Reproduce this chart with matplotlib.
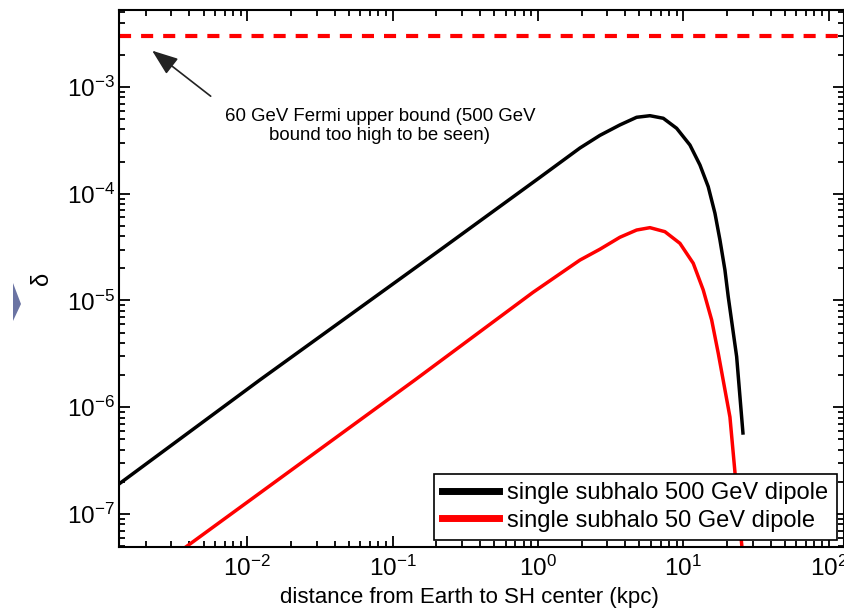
import matplotlib
matplotlib.use('Agg')
import matplotlib.pyplot as plt
from matplotlib.patches import Polygon

plt.rcParams['font.family'] = ['Liberation Sans', 'DejaVu Sans']
plt.rcParams['mathtext.default'] = 'regular'

# values
d_500 = [1.31e-3, 0.0122, 0.212, 1.03, 1.946, 2.671, 3.667, 4.779, 5.90, 7.29, 9.01,
         11.12, 13.03, 14.86, 16.53, 17.89, 19.36, 20.40, 23.31, 25.76]
delta_500 = [1.91e-7, 1.80e-6, 2.97e-5, 1.42e-4, 2.68e-4, 3.52e-4, 4.41e-4, 5.20e-4,
             5.38e-4, 5.09e-4, 4.10e-4, 2.86e-4, 1.86e-4, 1.164e-4, 6.56e-5, 3.69e-5,
             1.93e-5, 1.085e-5, 2.98e-6, 5.74e-7]

d_50 = [1.31e-3, 3.78e-3, 0.1424, 0.924, 1.42, 1.946, 2.671, 3.667, 4.779, 5.90, 7.48,
        9.49, 11.72, 13.73, 15.69, 17.42, 20.96, 22.69, 25.35, 26.5]
delta_50 = [1.73e-8, 4.91e-8, 1.80e-6, 1.19e-5, 1.78e-5, 2.39e-5, 3.02e-5, 3.91e-5,
            4.57e-5, 4.81e-5, 4.41e-5, 3.43e-5, 2.23e-5, 1.254e-5, 6.57e-6, 3.20e-6,
            8.10e-7, 2.47e-7, 4.91e-8, 2.0e-8]

fermi_bound = 3e-3

fig = plt.figure(figsize=(8.45, 6.13), dpi=100)
ax = fig.add_axes([0.1408, 0.1077, 0.858, 0.876])

ax.plot(d_500, delta_500, color='black', lw=2.5, label='single subhalo 500 GeV dipole')
ax.plot(d_50, delta_50, color='red', lw=2.5, label='single subhalo 50 GeV dipole')
ax.axhline(fermi_bound, color='red', lw=3, dashes=(2.9, 2.4))

ax.set_xscale('log')
ax.set_yscale('log')
ax.set_xlim(1.31e-3, 127.7)
ax.set_ylim(4.91e-8, 5.26e-3)

ax.tick_params(which='both', direction='in', top=True, right=True, labelsize=17.5, width=1.3)
ax.tick_params(which='major', length=8)
ax.tick_params(which='minor', length=4)
ax.tick_params(axis='x', which='major', pad=6)
ax.tick_params(axis='y', which='major', pad=3)
for s in ax.spines.values():
    s.set_linewidth(1.5)

ax.set_xlabel('distance from Earth to SH center (kpc)', fontsize=16, labelpad=1)
ax.xaxis.set_label_coords(0.483, -0.075)
ax.set_ylabel('δ', fontsize=17, rotation=90, labelpad=10)

ax.annotate('', xy=(2.14e-3, 2.27e-3), xytext=(5.8e-3, 7.9e-4),
            arrowprops=dict(arrowstyle='-|>,head_length=0.8,head_width=0.3',
                            color='#222222', lw=1.2, mutation_scale=20))
ax.text(0.0818, 4.3e-4, '60 GeV Fermi upper bound (500 GeV\nbound too high to be seen)',
        ha='center', va='center', fontsize=13.4, linespacing=1.15)

leg = ax.legend(loc='lower right', bbox_to_anchor=(0.990, 0.013), borderaxespad=0,
                fontsize=17, fancybox=False, edgecolor='black', framealpha=1,
                handlelength=2.4, handletextpad=0.35, borderpad=0.35, labelspacing=0.25)
leg.get_frame().set_linewidth(1.2)
for h in leg.get_lines():
    h.set_linewidth(5)

# slide marker at left edge
fig.patches.append(Polygon([[13, 292], [21, 309], [13, 330]], closed=True,
                           transform=None, facecolor='#6b74a3', edgecolor='none'))

fig.savefig('out.png', dpi=100)
